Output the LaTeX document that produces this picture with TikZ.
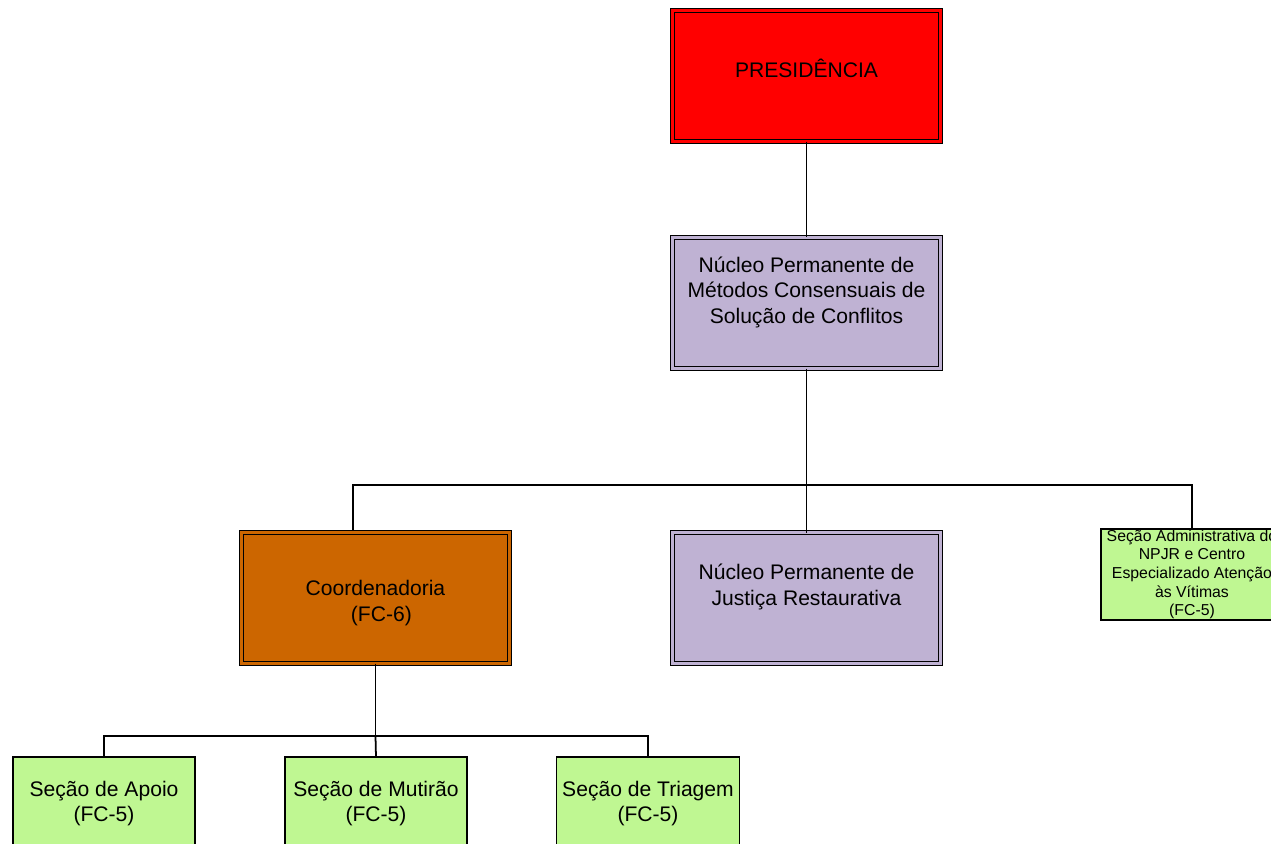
\documentclass[tikz,border=0pt]{standalone}
\usepackage{fontspec}
\setmainfont{Liberation Sans}
\definecolor{presred}{RGB}{255,0,0}
\definecolor{nucleo}{RGB}{191,178,211}
\definecolor{coordo}{RGB}{204,102,0}
\definecolor{secao}{RGB}{191,247,146}
\begin{document}
\begin{tikzpicture}[x=0.2mm, y=-0.2mm,
    unit/.style={draw, line width=0.85pt, double distance=1.6pt, outer sep=0,
      minimum width=5.36cm, minimum height=2.62cm, align=center,
      font=\fontsize{12}{14.7}\selectfont},
    secbox/.style={draw, line width=0.85pt, outer sep=0, fill=secao,
      minimum width=3.64cm, minimum height=1.86cm, align=center,
      font=\fontsize{12}{14.7}\selectfont},
    link/.style={line width=1pt}]
    \useasboundingbox (0,0) rectangle (1271,844);
    % levels
    \node[unit, fill=presred, double=presred] (pres) at (806.5,76) {PRESIDÊNCIA\\[-5.7pt]~};
    \node[unit, fill=nucleo, double=nucleo] (nuc) at (806.5,303) {Núcleo Permanente de\\Métodos Consensuais de\\Solução de Conflitos\\~};
    \node[unit, fill=coordo, double=coordo] (coord) at (375.5,598) {~\\Coordenadoria\\~~(FC-6)};
    \node[unit, fill=nucleo, double=nucleo] (just) at (806.5,598) {Núcleo Permanente de\\Justiça Restaurativa\\~};
    \node[secbox, minimum width=3.6cm, minimum height=1.82cm, inner ysep=0.5pt, font=\fontsize{9}{10.6}\selectfont] (secadm) at (1192,574.5) {Seção Administrativa do\\NPJR e Centro\\Especializado Atenção\\às Vítimas\\(FC-5)};
    \node[secbox] (apoio) at (104,803.5) {Seção de Apoio\\(FC-5)};
    \node[secbox] (mutirao) at (376,803.5) {Seção de Mutirão\\(FC-5)};
    \node[secbox] (triagem) at (648,803.5) {Seção de Triagem\\(FC-5)};
    % connectors
    \coordinate (busA) at (0,485);
    \coordinate (busB) at (0,736);
    \coordinate (coordIn) at (353,530);
    \draw[link] (pres) -- (nuc);
    \draw[link] (nuc) -- (just);
    \draw[link] (nuc.south |- busA) -| (secadm.north);
    \draw[link] (nuc.south |- busA) -| (coordIn);
    \draw[link] (coord.south) -- (coord.south |- busB) -| (apoio.north);
    \draw[link] (coord.south |- busB) -| (triagem.north);
    \draw[link] (coord.south |- busB) -- (mutirao.north);
\end{tikzpicture}
\end{document}
